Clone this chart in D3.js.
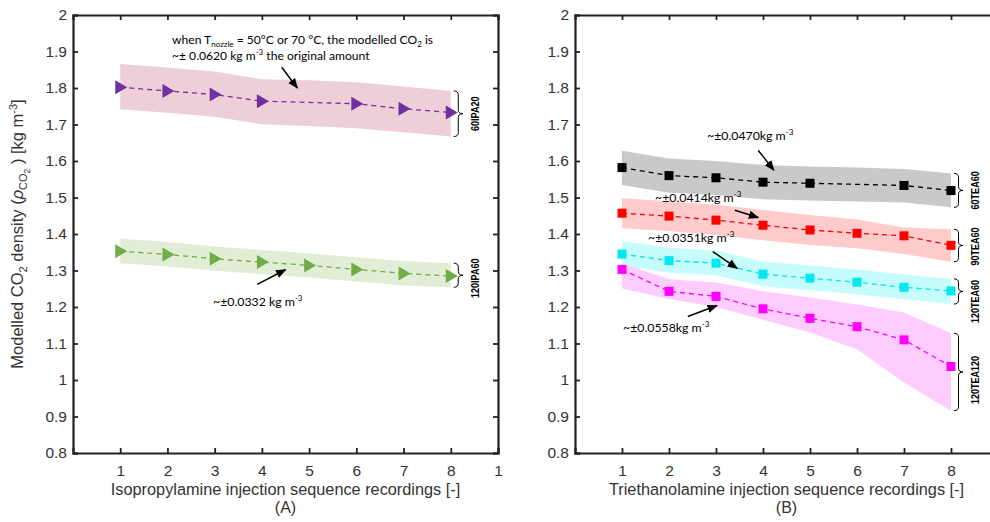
<!DOCTYPE html>
<html><head><meta charset="utf-8">
<script src="https://cdn.jsdelivr.net/npm/d3@7"></script>
<style>body{margin:0;background:#fff}svg{display:block}</style>
</head><body>
<script>
// ---------- data ----------
const xTicksA = [1,2,3,4,5,6,7,8,9];
const xTickLabelsA = ["1","2","3","4","5","6","7","8","1"];
const xTicksB = [1,2,3,4,5,6,7,8,9];
const xTickLabelsB = ["1","2","3","4","5","6","7","8",""];
const yTicks = [0.8,0.9,1,1.1,1.2,1.3,1.4,1.5,1.6,1.7,1.8,1.9,2];
const bandX = [1,2,3,4,5,6,7,8];

// Panel A
const ipa20X = [1,2,3,4,6,7,8];
const ipa20Y = [1.802,1.792,1.782,1.764,1.757,1.743,1.733];
const ipa20Hi = [1.866,1.856,1.845,1.824,1.821,1.816,1.804,1.792];
const ipa20Lo = [1.742,1.732,1.721,1.701,1.696,1.690,1.679,1.667];

const ipa60X = [1,2,3,4,5,6,7,8];
const ipa60Y = [1.353,1.344,1.332,1.323,1.314,1.303,1.292,1.285];
const ipa60Hi = [1.388,1.378,1.366,1.356,1.347,1.336,1.326,1.320];
const ipa60Lo = [1.320,1.311,1.299,1.290,1.281,1.270,1.259,1.254];

// Panel B
const tea6060X = [1,2,3,4,5,7,8];
const tea6060Y = [1.582,1.560,1.554,1.542,1.539,1.533,1.519];
const tea6060Hi = [1.628,1.607,1.600,1.589,1.585,1.582,1.578,1.566];
const tea6060Lo = [1.534,1.513,1.507,1.495,1.492,1.489,1.486,1.473];

const tea9060X = [1,2,3,4,5,6,7,8];
const tea9060Y = [1.457,1.449,1.438,1.424,1.411,1.402,1.395,1.369];
const tea9060Hi = [1.498,1.490,1.480,1.466,1.452,1.440,1.418,1.413];
const tea9060Lo = [1.416,1.408,1.397,1.383,1.370,1.361,1.345,1.324];

const tea12060X = [1,2,3,4,5,6,7,8];
const tea12060Y = [1.345,1.327,1.320,1.290,1.279,1.268,1.254,1.244];
const tea12060Hi = [1.380,1.362,1.355,1.325,1.314,1.303,1.289,1.277];
const tea12060Lo = [1.312,1.294,1.287,1.257,1.246,1.235,1.221,1.208];

const tea120120X = [1,2,3,4,5,6,7,8];
const tea120120Y = [1.303,1.243,1.229,1.195,1.169,1.146,1.110,1.037];
const tea120120Hi = [1.320,1.276,1.267,1.243,1.226,1.207,1.185,1.128];
const tea120120Lo = [1.251,1.222,1.200,1.165,1.130,1.084,0.993,0.916];

// ---------- drawing ----------
const W = 990, H = 522;
const svg = d3.select("body").append("svg").attr("width", W).attr("height", H);
const y = d3.scaleLinear().domain([0.8, 2]).range([453, 15]);
const xA = d3.scaleLinear().domain([0, 9]).range([73, 498]);
const xB = d3.scaleLinear().domain([0, 9]).range([575, 998]);
const axisFont = "'Liberation Sans', Arial, sans-serif";
const annFont = "Lato, 'Open Sans', sans-serif";
const labFont = "'Liberation Sans', Arial, sans-serif";

svg.append("defs").append("marker")
  .attr("id","arr").attr("viewBox","0 0 10 10").attr("refX",9).attr("refY",5)
  .attr("markerWidth",7).attr("markerHeight",7).attr("orient","auto-start-reverse")
  .append("path").attr("d","M0,1 L10,5 L0,9 Z").attr("fill","#000");

function panel(x, ticks, tickLabels) {
  const g = svg.append("g");
  const x0 = x.range()[0], x1 = x.range()[1];
  const bottom = g.append("g").attr("transform", `translate(0,${y(0.8)})`)
    .call(d3.axisBottom(x).tickValues(ticks).tickFormat((d,i)=>tickLabels[i]).tickSize(-5).tickPadding(12));
  const top = g.append("g").attr("transform", `translate(0,${y(2)})`)
    .call(d3.axisTop(x).tickValues(ticks).tickFormat("").tickSize(-5));
  const left = g.append("g").attr("transform", `translate(${x0},0)`)
    .call(d3.axisLeft(y).tickValues(yTicks).tickFormat(d3.format("~g")).tickSize(-5).tickPadding(6));
  const right = g.append("g").attr("transform", `translate(${x1},0)`)
    .call(d3.axisRight(y).tickValues(yTicks).tickFormat("").tickSize(-5));
  [bottom, top, left, right].forEach(a => {
    a.select(".domain").attr("stroke","#222").attr("stroke-width",2.2);
    a.selectAll(".tick line").attr("stroke","#222").attr("stroke-width",1.8);
    a.selectAll("text").attr("font-family", axisFont).attr("font-size", 15.5).attr("fill","#333");
  });
  return g;
}

panel(xA, xTicksA, xTickLabelsA);
panel(xB, xTicksB, xTickLabelsB);

function series(x, xs, ys, hi, lo, color, bandColor, shape, label, shift) {
  const g = svg.append("g");
  const bandData = bandX.map((d,i)=>({x:d, hi:hi[i], lo:lo[i]}));
  g.append("path").datum(bandData)
    .attr("d", d3.area().x(d=>x(d.x)).y0(d=>y(d.lo)).y1(d=>y(d.hi)))
    .attr("fill", bandColor);
  const pts = xs.map((d,i)=>({x:d, y:ys[i]}));
  g.append("path").datum(pts)
    .attr("d", d3.line().x(d=>x(d.x)).y(d=>y(d.y)))
    .attr("fill","none").attr("stroke",color).attr("stroke-width",1.3).attr("stroke-dasharray","5,4");
  if (shape === "tri") {
    g.selectAll("path.m").data(pts).join("path").attr("class","m")
      .attr("d", d => { const cx=x(d.x), cy=y(d.y); return `M${cx-5},${cy-7} L${cx+7},${cy} L${cx-5},${cy+7} Z`; })
      .attr("fill", color);
  } else {
    g.selectAll("rect.m").data(pts).join("rect").attr("class","m")
      .attr("x", d=>x(d.x)-4.5).attr("y", d=>y(d.y)-4.5).attr("width",9).attr("height",9)
      .attr("fill", color);
  }
  const bx = x(8) + 3, y1 = y(hi[7]), y2 = y(lo[7]), ym = (y1+y2)/2, w = 9, r = 4;
  g.append("path")
    .attr("d", `M${bx},${y1} Q${bx+w/2},${y1} ${bx+w/2},${y1+r} L${bx+w/2},${ym-r} Q${bx+w/2},${ym} ${bx+w},${ym} Q${bx+w/2},${ym} ${bx+w/2},${ym+r} L${bx+w/2},${y2-r} Q${bx+w/2},${y2} ${bx},${y2}`)
    .attr("fill","none").attr("stroke","#000").attr("stroke-width",1);
  const t = g.append("text")
    .attr("transform", `translate(${bx+25},${ym + (shift||0)}) rotate(-90)`)
    .attr("text-anchor","middle").attr("font-family", labFont).attr("font-weight","bold")
    .attr("font-size", 10.5).attr("fill","#000").text(label);
  const len = t.node().getComputedTextLength();
  t.attr("textLength", len * 0.86).attr("lengthAdjust", "spacingAndGlyphs");
}

series(xA, ipa20X, ipa20Y, ipa20Hi, ipa20Lo, "#7030A0", "#EDD0D7", "tri", "60IPA20", 0);
series(xA, ipa60X, ipa60Y, ipa60Hi, ipa60Lo, "#70AD47", "#E2EDD6", "tri", "120IPA60", 3);
series(xB, tea6060X, tea6060Y, tea6060Hi, tea6060Lo, "#000000", "#C9C9C9", "sq", "60TEA60", 0);
series(xB, tea9060X, tea9060Y, tea9060Hi, tea9060Lo, "#FF0000", "#FFCBCB", "sq", "90TEA60", 1);
series(xB, tea12060X, tea12060Y, tea12060Hi, tea12060Lo, "#00E8F0", "#C6FCFC", "sq", "120TEA60", 10);
series(xB, tea120120X, tea120120Y, tea120120Hi, tea120120Lo, "#FF00FF", "#FFCCFF", "sq", "120TEA120", 8);

function arrow(x1,y1,x2,y2){
  svg.append("line").attr("x1",x1).attr("y1",y1).attr("x2",x2).attr("y2",y2)
    .attr("stroke","#000").attr("stroke-width",1.5).attr("marker-end","url(#arr)");
}
// panel A annotation
const t1 = svg.append("text").attr("x",172).attr("y",44).attr("font-family",annFont).attr("font-size",12.1);
t1.append("tspan").text("when T");
t1.append("tspan").text("nozzle").attr("font-size",8).attr("dy",3);
t1.append("tspan").text(" = 50°C or 70 °C, the  modelled CO").attr("dy",-3);
t1.append("tspan").text("2").attr("font-size",8).attr("dy",3);
t1.append("tspan").text(" is").attr("dy",-3);
const t2 = svg.append("text").attr("x",172).attr("y",60).attr("font-family",annFont).attr("font-size",12.1);
t2.append("tspan").text("~± 0.0620 kg m");
t2.append("tspan").text("-3").attr("font-size",8).attr("dy",-5);
t2.append("tspan").text(" the original amount").attr("dy",5);
arrow(xA(4.42), y(1.857), xA(4.75), y(1.8));

function sup(text, unitSup, tx, ty) {
  const t = svg.append("text").attr("x",tx).attr("y",ty).attr("font-family",annFont).attr("font-size",12.3);
  t.append("tspan").text(text);
  t.append("tspan").text(unitSup).attr("font-size",8).attr("dy",-5);
}
sup("~±0.0332 kg m", "-3", 213, 306);
arrow(xA(3.9), y(1.262), xA(4.5), y(1.302));

sup("~±0.0470kg m", "-3", 707, 140);
arrow(xB(3.9), y(1.629), xB(4.23), y(1.575));
sup("~±0.0414kg m", "-3", 655, 202);
arrow(xB(3.4), y(1.465), xB(3.9), y(1.445));
sup("~±0.0351kg m", "-3", 648, 242);
arrow(xB(2.93), y(1.352), xB(3.45), y(1.306));
sup("~±0.0558kg m", "-3", 623, 332);
arrow(xB(2.4), y(1.174), xB(3.02), y(1.204));

// axis titles
function title(x, ty, txt, fs) {
  svg.append("text").attr("x", x).attr("y", ty).attr("text-anchor","middle")
    .attr("font-family",axisFont).attr("font-size",fs).attr("fill","#333").text(txt);
}
title(xA(4.5), 495, "Isopropylamine injection sequence recordings [-]", 16.3);
title(xA(4.5), 513, "(A)", 16);
title(xB(4.5), 495, "Triethanolamine injection sequence recordings [-]", 16.3);
title(xB(4.5), 513, "(B)", 16);

const yl = svg.append("text").attr("transform", `translate(23,${y(1.4)}) rotate(-90)`)
  .attr("text-anchor","middle").attr("font-family",axisFont).attr("font-size",16.5).attr("fill","#333");
yl.append("tspan").text("Modelled CO");
yl.append("tspan").text("2").attr("font-size",11).attr("dy",4);
yl.append("tspan").text(" density (").attr("dy",-4);
yl.append("tspan").text("ρ").attr("font-style","italic");
yl.append("tspan").text("CO").attr("font-size",11).attr("dy",4);
yl.append("tspan").text("2").attr("font-size",8.5).attr("dy",3);
yl.append("tspan").text(" ) [kg m").attr("dy",-7);
yl.append("tspan").text("-3").attr("font-size",11).attr("dy",-6);
yl.append("tspan").text("]").attr("dy",6);
</script>
</body></html>
